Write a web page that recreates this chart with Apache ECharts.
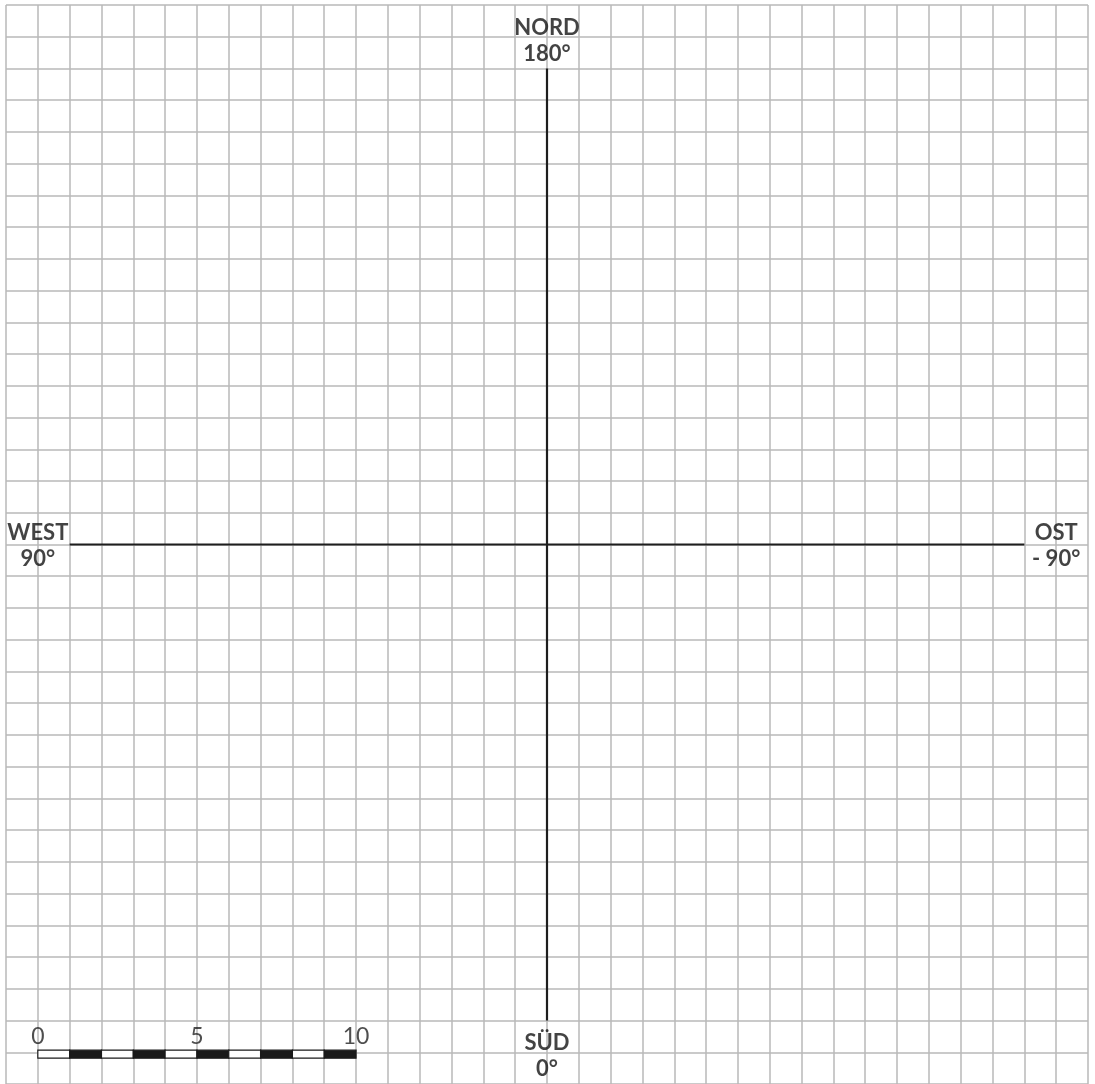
<!DOCTYPE html>
<html>
<head>
<meta charset="utf-8">
<script src="https://cdn.jsdelivr.net/npm/echarts@6/dist/echarts.min.js"></script>
<style>
html,body{margin:0;padding:0;background:#fff;}
#chart{width:1095px;height:1084px;}
</style>
</head>
<body>
<div id="chart"></div>
<script>
// Grid extent in cell units (34 x 34 cells, centred on the origin)
const gridMin = -17;
const gridMax = 17;
const gridStep = 1;

// Compass axes (cell units)
const northSouthAxis = [[0, -15], [0, 15]];
const eastWestAxis = [[-15, 0], [15, 0]];

// Compass labels: [x, y, text]
const compassLabels = [
  [0, 15.88, 'NORD\n180°'],
  [-16, -0.05, 'WEST\n90°'],
  [16, -0.05, 'OST\n- 90°'],
  [0, -16.12, 'SÜD\n0°']
];

// Scale bar: segment boundaries (scale units) and tick labels
const scaleBoundaries = [0, 1, 2, 3, 4, 5, 6, 7, 8, 9, 10];
const scaleTickValues = [0, 5, 10];
const scaleTickLabels = ['0', '5', '10'];
const scaleOriginX = -16;   // where 0 of the scale sits on the grid
const scaleBarY = -16.06;
const scaleLabelY = -15.5;

const segments = [];
for (let i = 0; i < scaleBoundaries.length - 1; i++) {
  segments.push([scaleOriginX + scaleBoundaries[i], scaleOriginX + scaleBoundaries[i + 1], i % 2]);
}
const scaleLabelData = scaleTickValues.map((v, i) => [scaleOriginX + v, scaleLabelY, scaleTickLabels[i]]);

const chart = echarts.init(document.getElementById('chart'), null, {renderer: 'canvas'});
const splitStyle = {show: true, lineStyle: {color: '#b9b9b9', width: 1.5}};
chart.setOption({
  backgroundColor: '#ffffff',
  animation: false,
  grid: {left: 6, top: 5, width: 1082, height: 1080, containLabel: false},
  xAxis: {
    type: 'value', min: gridMin, max: gridMax, interval: gridStep,
    axisLine: {show: false}, axisTick: {show: false}, axisLabel: {show: false},
    splitLine: splitStyle
  },
  yAxis: {
    type: 'value', min: gridMin, max: gridMax, interval: gridStep,
    axisLine: {show: false}, axisTick: {show: false}, axisLabel: {show: false},
    splitLine: splitStyle
  },
  series: [
    {
      type: 'line', data: northSouthAxis, symbol: 'none', silent: true,
      lineStyle: {color: '#1e1e1e', width: 2.2}
    },
    {
      type: 'line', data: eastWestAxis, symbol: 'none', silent: true,
      lineStyle: {color: '#1e1e1e', width: 2.2}
    },
    {
      type: 'custom',
      data: segments,
      renderItem: function (params, api) {
        const p0 = api.coord([api.value(0), scaleBarY]);
        const p1 = api.coord([api.value(1), scaleBarY]);
        const h = 8;
        const dark = api.value(2) === 1;
        return {
          type: 'rect',
          shape: {x: p0[0], y: p0[1] - h / 2, width: p1[0] - p0[0], height: h},
          style: {fill: dark ? '#1a1a1a' : '#ffffff', stroke: '#1a1a1a', lineWidth: 1.2}
        };
      },
      z: 5
    },
    {
      type: 'scatter', data: scaleLabelData, symbolSize: 0, silent: true,
      label: {
        show: true, position: 'inside',
        formatter: p => p.data[2],
        fontFamily: 'Lato', fontSize: 23, color: '#222', fontWeight: 'normal'
      },
      z: 6
    },
    {
      type: 'scatter', data: compassLabels, symbolSize: 0, silent: true,
      label: {
        show: true, position: 'inside',
        formatter: p => p.data[2],
        fontFamily: 'Lato', fontSize: 22, fontWeight: 'bold', color: '#141414',
        lineHeight: 26, align: 'center', verticalAlign: 'middle'
      },
      z: 6
    }
  ]
});
</script>
</body>
</html>
